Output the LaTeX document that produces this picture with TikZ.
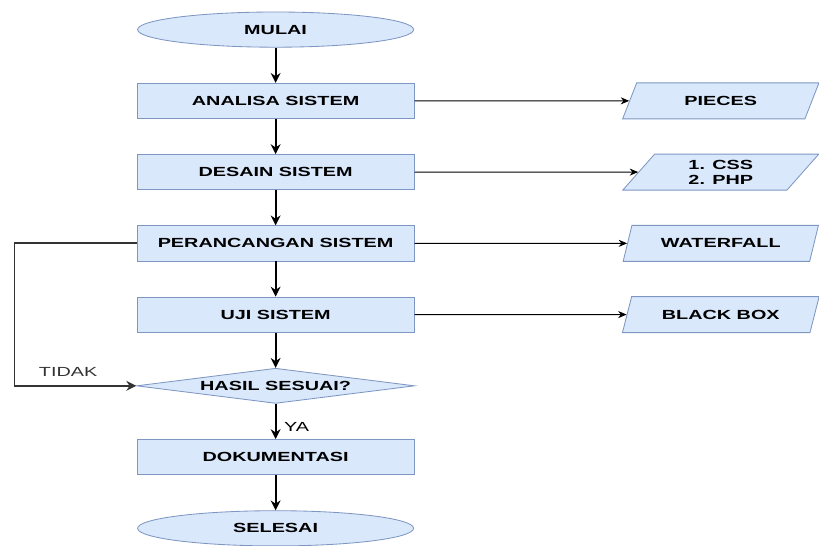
\documentclass[tikz,border=0pt]{standalone}
\usepackage{fontspec}
\setmainfont{Liberation Sans}[FakeStretch=1.5]
\usetikzlibrary{arrows.meta, positioning, shapes.geometric}
\definecolor{boxfill}{HTML}{DAE8FC}
\definecolor{boxline}{HTML}{7E97C2}
\tikzset{
  proc/.style={rectangle, draw=boxline, fill=boxfill, line width=0.6pt,
               minimum width=6.93cm, minimum height=0.88cm, inner sep=0pt,
               align=center, font=\fontsize{9.4}{10.5}\selectfont\bfseries},
  term/.style={proc, ellipse, minimum width=6.9cm, minimum height=0.88cm},
  dec/.style={proc, diamond, aspect=7.9, minimum width=6.95cm, minimum height=0.88cm},
  io/.style={proc, trapezium, trapezium left angle=57, trapezium right angle=123,
             trapezium stretches=true, minimum width=4.93cm, minimum height=0.9cm},
  arr/.style={-{Stealth[length=7pt, width=7pt]}, line width=1.3pt, #1},
  arr/.default=black,
  side/.style={-{Stealth[length=6pt, width=5pt]}, line width=0.6pt},
  lbl/.style={font=\fontsize{9.4}{10.5}\selectfont},
}

\begin{document}
\begin{tikzpicture}
  \useasboundingbox (0,0) rectangle (20.475,-13.625);

  % main column
  \node[term] (mulai) at (6.89,-0.74) {MULAI};
  \node[proc, below=0.88cm of mulai] (analisa) {ANALISA SISTEM};
  \node[proc, below=0.88cm of analisa] (desain) {DESAIN SISTEM};
  \node[proc, below=0.88cm of desain] (rancang) {PERANCANGAN SISTEM};
  \node[proc, below=0.88cm of rancang] (uji) {UJI SISTEM};
  \node[dec, below=0.88cm of uji] (cek) {HASIL SESUAI?};
  \node[proc, below=0.88cm of cek] (dok) {DOKUMENTASI};
  \node[term, below=0.88cm of dok] (selesai) {SELESAI};

  % tools and methods on the right
  \coordinate (kanan) at (18.02,0);
  \node[io] (pieces) at (analisa -| kanan) {PIECES};
  \node[io] (bahasa) at (desain -| kanan) {1. CSS\\2. PHP};
  \node[io] (wf) at (rancang -| kanan) {WATERFALL};
  \node[io] (bb) at (uji -| kanan) {BLACK BOX};

  \draw[arr] (mulai) -- (analisa);
  \draw[arr] (analisa) -- (desain);
  \draw[arr] (desain) -- (rancang);
  \draw[arr] (rancang) -- (uji);
  \draw[arr] (uji) -- (cek);
  \draw[arr] (cek) -- node[lbl, pos=0.65, right=2pt] {YA} (dok);
  \draw[arr] (dok) -- (selesai);

  \draw[side] (analisa) -- (pieces);
  \draw[side] (desain) -- (bahasa);
  \draw[side] (rancang) -- (wf);
  \draw[side] (uji) -- (bb);

  % loop back when the test fails
  \draw[arr=black!80] (rancang.west) -- ++(-3.05,0) |- node[lbl, pos=0.72, above=3pt] {TIDAK} (cek.west);
\end{tikzpicture}
\end{document}
